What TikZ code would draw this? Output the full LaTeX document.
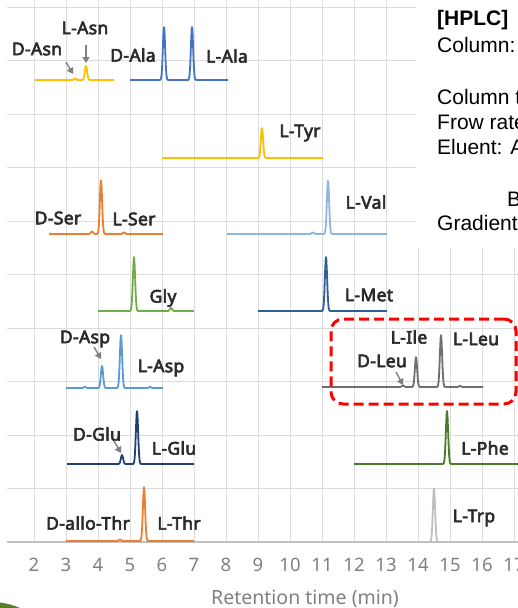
\documentclass[tikz,border=0pt]{standalone}
\usepackage{fontspec}
\setmainfont{Noto Sans}
\newfontfamily\panelfont{Liberation Sans}
\newfontfamily\lblfont{Noto Sans}[FakeBold=3.5, LetterSpace=2]
\usetikzlibrary{arrows.meta}
\definecolor{yellowc}{HTML}{FFC000}
\definecolor{alablue}{HTML}{4472C4}
\definecolor{orangec}{HTML}{ED7D31}
\definecolor{valblue}{HTML}{8DB6E2}
\definecolor{aspblue}{HTML}{5B9BD5}
\definecolor{greenc}{HTML}{70AD47}
\definecolor{metblue}{HTML}{2F5F98}
\definecolor{glunavy}{HTML}{213F73}
\definecolor{leugray}{HTML}{6E6E6E}
\definecolor{phegreen}{HTML}{4C7A2C}
\definecolor{trpgray}{HTML}{BFBFBF}
\definecolor{gridc}{HTML}{DCDCDC}
\definecolor{axisc}{HTML}{BFBFBF}
\definecolor{labelc}{HTML}{2B2B2B}
\definecolor{arrowc}{HTML}{7F7F7F}
\definecolor{numc}{HTML}{808080}
\definecolor{leafc}{HTML}{557F2A}
\tikzset{
  gridline/.style={draw=gridc, line width=1},
  trace/.style={line width=1.8, line join=round},
  lbl/.style={inner sep=0pt, text=labelc, font=\lblfont\fontsize{17.5}{20}\selectfont},
  tick/.style={inner sep=0pt, text=numc, font=\fontsize{18.5}{22}\selectfont},
  panel/.style={inner sep=0pt, anchor=west, text=black, font=\panelfont\fontsize{21}{25}\selectfont},
  pointer/.style={draw=arrowc, line width=1.4, -{Triangle[length=6pt,width=7pt]}},
  declare function={G(\x,\p,\h)=\h*exp(-min(((\x-\p)/1.6)^2,9));}
}
\begin{document}
\begin{tikzpicture}[x=1pt,y=-1pt]
\useasboundingbox (0,0) rectangle (518,608);
\fill[white] (0,0) rectangle (518,608);
% grid
\foreach \i in {0,...,9} \draw[gridline] (7,{7+53.5*\i}) -- (518,{7+53.5*\i});
\foreach \t in {2,...,17} \draw[gridline] ({34+32*(\t-2)},0) -- ({34+32*(\t-2)},542);
\draw[draw=axisc, line width=1.2] (7,542) -- (518,542);
% text panel
\fill[white] (416,0) rectangle (518,248);
\node[panel, font=\panelfont\fontsize{21}{25}\selectfont\bfseries] (p1) at (437,20.5) {[HPLC]};
\node[panel] (p2) at (437,45) {Column:};
\node[panel] (p3) at (437,97) {Column t};
\node[panel] (p4) at (437,122) {Frow rate};
\node[panel] (p5) at (437,147) {Eluent: A};
\node[panel] (p6) at (507,199) {B};
\node[panel] (p7) at (437,223) {Gradient};
% traces
\draw[trace, yellowc] plot[domain=35:114, samples=240] (\x,{80-G(\x,86,14)-G(\x,75,1.5)});
\draw[trace, alablue] plot[domain=130:228, samples=300] (\x,{80-G(\x,164,53)-G(\x,192,53)});
\draw[trace, yellowc] plot[domain=162:323, samples=320] (\x,{158-G(\x,262,30)});
\draw[trace, orangec] plot[domain=49:163, samples=300] (\x,{234-G(\x,101,54)-G(\x,92,2.5)-G(\x,124,1.5)});
\draw[trace, valblue] plot[domain=227:387, samples=320] (\x,{234-G(\x,328,54)-G(\x,313,1.5)});
\draw[trace, greenc] plot[domain=98:194, samples=300] (\x,{311-G(\x,134,54)-G(\x,171,3)});
\draw[trace, metblue] plot[domain=258:387, samples=320] (\x,{311-G(\x,326,54)});
\draw[trace, aspblue] plot[domain=66:163, samples=300] (\x,{388-G(\x,102,22)-G(\x,121,53)-G(\x,85,1)-G(\x,150,1)});
\draw[trace, leugray] plot[domain=322:483, samples=320] (\x,{387-G(\x,416,30)-G(\x,441,52)-G(\x,403,1.5)-G(\x,460,1)});
\draw[trace, glunavy] plot[domain=67:194, samples=300] (\x,{464-G(\x,122,9)-G(\x,137,53)});
\draw[trace, phegreen] plot[domain=354:518, samples=320] (\x,{464-G(\x,447,53)});
\draw[trace, orangec] plot[domain=66:194, samples=300] (\x,{541-G(\x,144,54)-G(\x,120,1.5)});
\draw[trace, trpgray] plot[domain=354:518, samples=320] (\x,{542-G(\x,434,54)});
% labels
\node[lbl] (lasn) at (85,28) {L-Asn};
\node[lbl] (dasn) at (37,49) {D-Asn};
\node[lbl] (dala) at (133,55) {D-Ala};
\node[lbl] (lala) at (227,56) {L-Ala};
\node[lbl] (ltyr) at (300,133) {L-Tyr};
\node[lbl] (dser) at (58,218) {D-Ser};
\node[lbl] (lser) at (134,219) {L-Ser};
\node[lbl] (lval) at (366,202) {L-Val};
\node[lbl] (gly) at (163,298) {Gly};
\node[lbl] (lmet) at (369,295) {L-Met};
\node[lbl] (dasp) at (85,339) {D-Asp};
\node[lbl] (lasp) at (161,368) {L-Asp};
\node[lbl] (lile) at (409,337) {L-Ile};
\node[lbl] (lleu) at (476,339) {L-Leu};
\node[lbl] (dleu) at (382,361) {D-Leu};
\node[lbl] (dglu) at (97,434) {D-Glu};
\node[lbl] (lglu) at (174,448) {L-Glu};
\node[lbl] (dathr) at (88,523) {D-allo-Thr};
\node[lbl] (lthr) at (179,523) {L-Thr};
\node[lbl] (lphe) at (485,448) {L-Phe};
\node[lbl] (ltrp) at (474,518) {L-Trp};
% pointer arrows
\coordinate (a1s) at (86,45); \coordinate (a1e) at (86,63);
\coordinate (a2s) at (66,62); \coordinate (a2e) at (73,74);
\coordinate (a3s) at (94,347); \coordinate (a3e) at (101,359);
\coordinate (a4s) at (114,441); \coordinate (a4e) at (121,453);
\coordinate (a5s) at (396,372); \coordinate (a5e) at (403,385);
\draw[pointer] (a1s) -- (a1e);
\draw[pointer] (a2s) -- (a2e);
\draw[pointer] (a3s) -- (a3e);
\draw[pointer] (a4s) -- (a4e);
\draw[pointer] (a5s) -- (a5e);
% highlight box
\node[draw=red, line width=3, dash pattern=on 10pt off 5pt, rounded corners=12pt,
      minimum width=185pt, minimum height=85pt, inner sep=0pt] (box) at (423.5,361.5) {};
% axis ticks
\foreach \t in {2,...,17} \node[tick] (t\t) at ({34+32*(\t-2)},565) {\t};
\node[tick, font=\fontsize{19.5}{23}\selectfont] (xtitle) at (305,599) {Retention time (min)};
% leaf corner
\fill[leafc] (0,602.5) .. controls (8,603.5) and (14,605.5) .. (20,608) -- (0,608) -- cycle;
\end{tikzpicture}
\end{document}
